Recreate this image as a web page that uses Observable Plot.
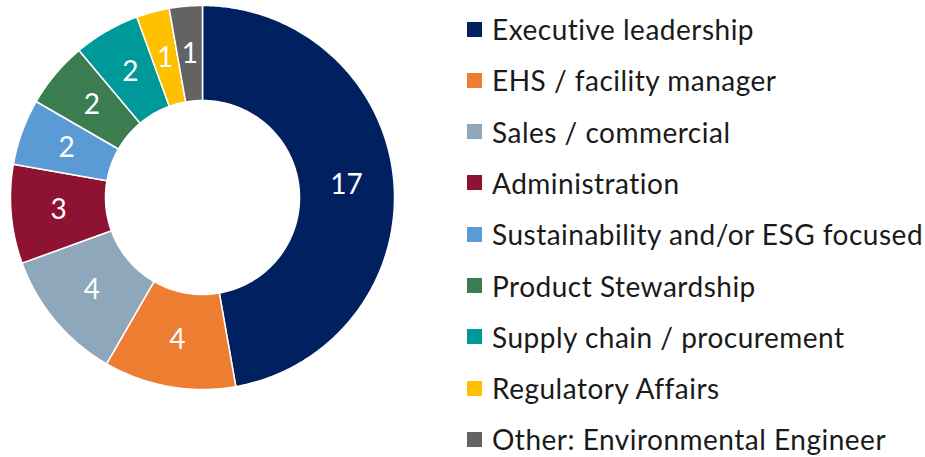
<!DOCTYPE html>
<html>
<head>
<meta charset="utf-8">
<script src="https://cdn.jsdelivr.net/npm/d3@7"></script>
<script src="https://cdn.jsdelivr.net/npm/@observablehq/plot@0.6"></script>
<style>
  html, body { margin: 0; padding: 0; background: #fff; }
  #wrap { display: flex; width: 925px; height: 457px; font-family: Lato, "Open Sans", sans-serif; }
  #chart { width: 440px; height: 457px; }
  #legend { position: relative; flex: 1; }
  .item { position: absolute; left: 27px; display: flex; align-items: center; font-size: 28px; letter-spacing: 0.5px; color: #1a1a1a; white-space: nowrap; }
  .sw { width: 15px; height: 15px; margin-right: 10px; }
</style>
</head>
<body>
<div id="wrap"><div id="chart"></div><div id="legend"></div></div>
<script>
const categories = ["Executive leadership", "EHS / facility manager", "Sales / commercial", "Administration",
  "Sustainability and/or ESG focused", "Product Stewardship", "Supply chain / procurement",
  "Regulatory Affairs", "Other: Environmental Engineer"];
const counts = [17, 4, 4, 3, 2, 2, 2, 1, 1];
const colors = ["#002060", "#ED7D31", "#8EA7BA", "#8E1232", "#5B9BD5", "#3B7D51", "#00999A", "#FFC000", "#636363"];

const R = 192, r0 = 97;
const total = d3.sum(counts);
const slices = [];
let acc = 0;
categories.forEach((name, i) => {
  const a0 = acc / total * 2 * Math.PI;
  acc += counts[i];
  const a1 = acc / total * 2 * Math.PI;
  slices.push({name, value: counts[i], a0, a1, mid: (a0 + a1) / 2});
});
const pts = [];
for (const s of slices) {
  const n = Math.max(4, Math.ceil((s.a1 - s.a0) / 0.01));
  for (let k = 0; k <= n; k++) { const a = s.a0 + (s.a1 - s.a0) * k / n; pts.push({name: s.name, x: R * Math.sin(a), y: R * Math.cos(a)}); }
  for (let k = n; k >= 0; k--) { const a = s.a0 + (s.a1 - s.a0) * k / n; pts.push({name: s.name, x: r0 * Math.sin(a), y: r0 * Math.cos(a)}); }
}
const rl = (R + r0) / 2;
const labels = slices.map(s => ({text: String(s.value), x: rl * Math.sin(s.mid), y: rl * Math.cos(s.mid)}));

const plot = Plot.plot({
  width: 440, height: 457,
  marginTop: 0, marginBottom: 0, marginLeft: 0, marginRight: 0,
  x: {domain: [-202, 238], axis: null},
  y: {domain: [-260, 197], axis: null},
  color: {domain: categories, range: colors},
  style: {fontFamily: "Lato, 'Open Sans', sans-serif", background: "white"},
  marks: [
    Plot.line(pts, {x: "x", y: "y", z: "name", fill: "name", stroke: "white", strokeWidth: 1.5, curve: "linear-closed"}),
    Plot.text(labels, {x: "x", y: "y", text: "text", fill: "white", fontSize: 28})
  ]
});
document.getElementById("chart").appendChild(plot);

const legend = document.getElementById("legend");
categories.forEach((c, i) => {
  const div = document.createElement("div");
  div.className = "item";
  div.style.top = (30 + i * 51.3 - 18) + "px";
  div.innerHTML = `<span class="sw" style="background:${colors[i]}"></span><span>${c}</span>`;
  legend.appendChild(div);
});
</script>
</body>
</html>
